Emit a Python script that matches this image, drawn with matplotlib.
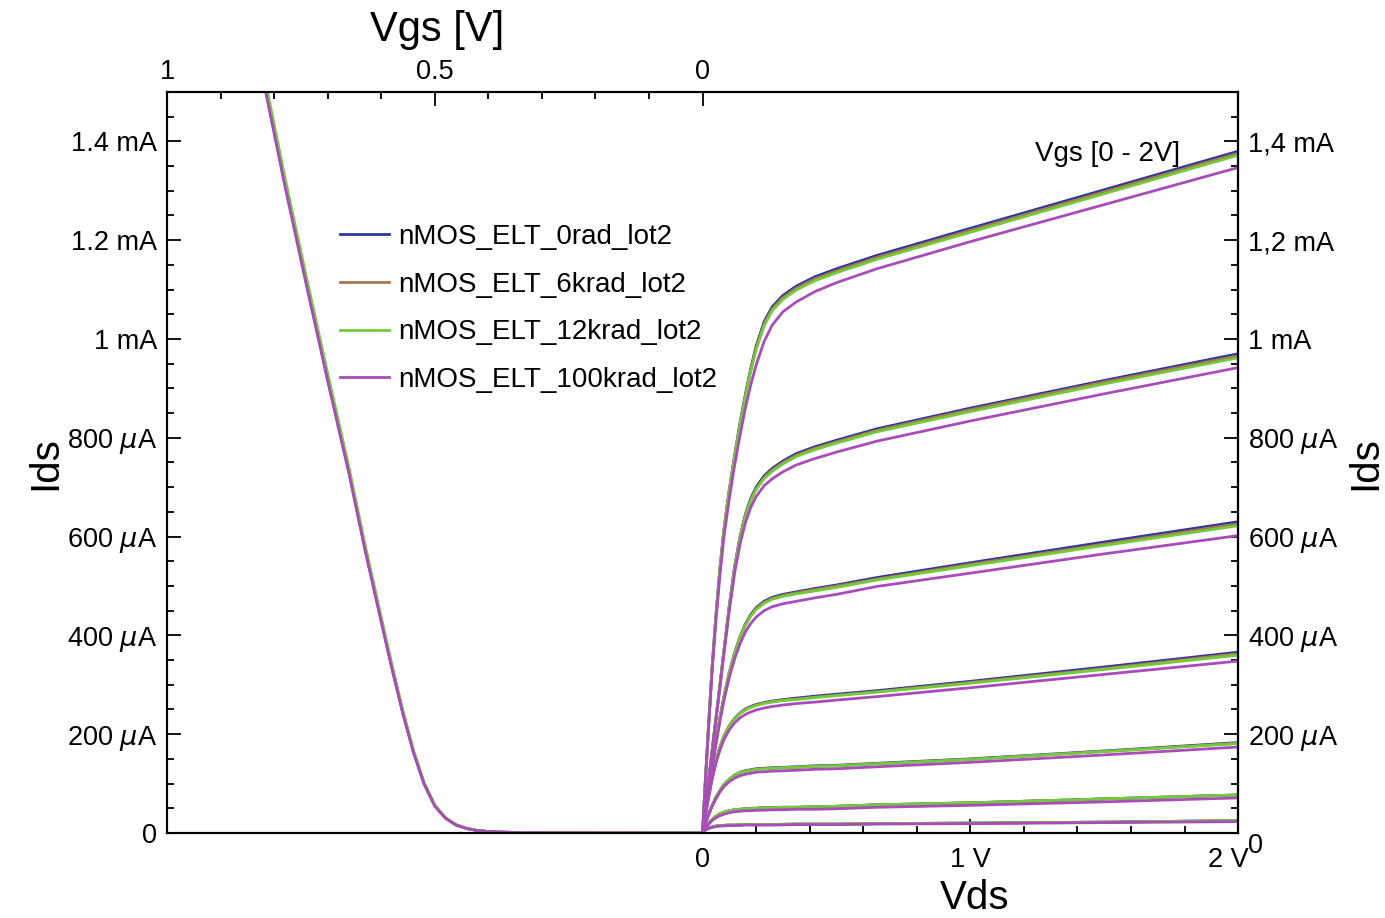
import numpy as np
import matplotlib
matplotlib.use('Agg')
import matplotlib.pyplot as plt
from matplotlib.transforms import ScaledTranslation

plt.rcParams['font.family'] = ['Liberation Sans', 'DejaVu Sans']
plt.rcParams['mathtext.fontset'] = 'dejavusans'

# series names and colours
series = ['nMOS_ELT_0rad_lot2', 'nMOS_ELT_6krad_lot2',
          'nMOS_ELT_12krad_lot2', 'nMOS_ELT_100krad_lot2']
colors = ['#2b35a0', '#a8784a', '#70cc3a', '#a94cba']

# transfer characteristic Ids(Vgs), mA
vgs_transfer = [0.0, 0.30, 0.35, 0.38, 0.40, 0.42, 0.44, 0.46, 0.48, 0.50, 0.52,
                0.54, 0.56, 0.58, 0.60, 0.63, 0.66, 0.70, 0.74, 0.78, 0.83]
ids_tr_0rad = [0, 0.0005, 0.001, 0.002, 0.003, 0.005, 0.009, 0.016, 0.030, 0.055, 0.100,
               0.165, 0.245, 0.335, 0.430, 0.575, 0.730, 0.920, 1.115, 1.315, 1.580]
ids_tr_6krad = [0, 0.0005, 0.001, 0.002, 0.003, 0.005, 0.009, 0.016, 0.030, 0.056, 0.101,
                0.166, 0.247, 0.337, 0.433, 0.578, 0.734, 0.925, 1.120, 1.320, 1.585]
ids_tr_12krad = [0, 0.0005, 0.001, 0.002, 0.003, 0.005, 0.009, 0.017, 0.031, 0.057, 0.102,
                 0.168, 0.249, 0.340, 0.436, 0.582, 0.738, 0.930, 1.126, 1.327, 1.595]
ids_tr_100krad = [0, 0.0005, 0.001, 0.002, 0.003, 0.005, 0.009, 0.016, 0.030, 0.054, 0.099,
                  0.163, 0.243, 0.332, 0.427, 0.571, 0.726, 0.915, 1.110, 1.310, 1.575]

# output characteristics Ids(Vds), one row per Vgs step, mA
vds = [0, 0.01, 0.02, 0.035, 0.05, 0.065, 0.08, 0.10, 0.12, 0.14, 0.16, 0.18,
       0.20, 0.23, 0.26, 0.30, 0.35, 0.42, 0.50, 0.65, 1.0, 1.5, 2.0]
ids_out_0rad = [
    [0, 0.100, 0.195, 0.330, 0.440, 0.535, 0.615, 0.695, 0.765, 0.830, 0.888, 0.940,
     0.985, 1.035, 1.065, 1.088, 1.107, 1.126, 1.142, 1.169, 1.224, 1.302, 1.380],
    [0, 0.047, 0.094, 0.163, 0.232, 0.300, 0.370, 0.460, 0.540, 0.600, 0.645, 0.677,
     0.700, 0.723, 0.738, 0.753, 0.768, 0.782, 0.795, 0.818, 0.860, 0.916, 0.970],
    [0, 0.038, 0.076, 0.131, 0.184, 0.233, 0.276, 0.325, 0.365, 0.397, 0.423, 0.442,
     0.456, 0.469, 0.477, 0.483, 0.488, 0.495, 0.502, 0.517, 0.547, 0.589, 0.630],
    [0, 0.034, 0.066, 0.110, 0.146, 0.174, 0.196, 0.217, 0.232, 0.243, 0.251, 0.256,
     0.260, 0.264, 0.267, 0.270, 0.273, 0.277, 0.281, 0.288, 0.307, 0.336, 0.366],
    [0, 0.018, 0.034, 0.055, 0.072, 0.086, 0.098, 0.109, 0.117, 0.123, 0.126, 0.128,
     0.130, 0.131, 0.132, 0.133, 0.134, 0.136, 0.137, 0.141, 0.150, 0.166, 0.183],
    [0, 0.009, 0.017, 0.027, 0.034, 0.039, 0.042, 0.045, 0.047, 0.048, 0.049, 0.050,
     0.050, 0.051, 0.051, 0.052, 0.052, 0.053, 0.054, 0.057, 0.061, 0.069, 0.077],
    [0, 0.006, 0.009, 0.012, 0.014, 0.015, 0.0155, 0.016, 0.016, 0.0165, 0.017, 0.017,
     0.017, 0.017, 0.017, 0.0175, 0.018, 0.018, 0.018, 0.019, 0.020, 0.022, 0.025],
]
ids_out_6krad = [
    [0, 0.100, 0.195, 0.330, 0.440, 0.535, 0.615, 0.694, 0.764, 0.828, 0.886, 0.937,
     0.982, 1.031, 1.061, 1.084, 1.103, 1.122, 1.138, 1.165, 1.220, 1.298, 1.376],
    [0, 0.047, 0.094, 0.163, 0.232, 0.300, 0.369, 0.459, 0.538, 0.598, 0.643, 0.674,
     0.697, 0.720, 0.735, 0.750, 0.765, 0.779, 0.792, 0.815, 0.857, 0.913, 0.966],
    [0, 0.038, 0.076, 0.131, 0.184, 0.233, 0.276, 0.325, 0.364, 0.396, 0.421, 0.440,
     0.454, 0.467, 0.475, 0.481, 0.486, 0.493, 0.500, 0.514, 0.544, 0.585, 0.626],
    [0, 0.034, 0.066, 0.110, 0.146, 0.174, 0.196, 0.217, 0.232, 0.242, 0.250, 0.255,
     0.259, 0.263, 0.266, 0.269, 0.271, 0.275, 0.279, 0.286, 0.305, 0.333, 0.363],
    [0, 0.018, 0.034, 0.055, 0.072, 0.086, 0.098, 0.109, 0.117, 0.122, 0.125, 0.127,
     0.129, 0.130, 0.131, 0.132, 0.133, 0.135, 0.136, 0.140, 0.149, 0.165, 0.182],
    [0, 0.009, 0.017, 0.027, 0.034, 0.039, 0.042, 0.045, 0.047, 0.048, 0.049, 0.050,
     0.050, 0.051, 0.051, 0.052, 0.052, 0.053, 0.054, 0.057, 0.061, 0.069, 0.077],
    [0, 0.006, 0.009, 0.012, 0.014, 0.015, 0.0155, 0.016, 0.016, 0.0165, 0.017, 0.017,
     0.017, 0.017, 0.017, 0.0175, 0.018, 0.018, 0.018, 0.019, 0.020, 0.022, 0.025],
]
ids_out_12krad = [
    [0, 0.100, 0.195, 0.330, 0.440, 0.535, 0.614, 0.693, 0.762, 0.826, 0.883, 0.934,
     0.978, 1.027, 1.057, 1.080, 1.099, 1.118, 1.134, 1.161, 1.216, 1.294, 1.372],
    [0, 0.047, 0.094, 0.163, 0.232, 0.300, 0.369, 0.458, 0.537, 0.596, 0.641, 0.672,
     0.695, 0.717, 0.732, 0.747, 0.762, 0.776, 0.789, 0.812, 0.853, 0.909, 0.962],
    [0, 0.038, 0.076, 0.131, 0.184, 0.233, 0.276, 0.324, 0.363, 0.395, 0.420, 0.439,
     0.452, 0.465, 0.473, 0.479, 0.484, 0.490, 0.497, 0.512, 0.541, 0.582, 0.622],
    [0, 0.034, 0.066, 0.110, 0.146, 0.174, 0.196, 0.216, 0.231, 0.242, 0.249, 0.254,
     0.258, 0.262, 0.265, 0.268, 0.270, 0.274, 0.278, 0.285, 0.303, 0.331, 0.360],
    [0, 0.018, 0.034, 0.055, 0.072, 0.086, 0.098, 0.109, 0.117, 0.122, 0.125, 0.127,
     0.129, 0.130, 0.131, 0.132, 0.133, 0.135, 0.136, 0.140, 0.149, 0.165, 0.181],
    [0, 0.009, 0.017, 0.027, 0.034, 0.039, 0.042, 0.045, 0.047, 0.048, 0.049, 0.050,
     0.050, 0.051, 0.051, 0.052, 0.052, 0.053, 0.054, 0.057, 0.061, 0.069, 0.077],
    [0, 0.006, 0.009, 0.012, 0.014, 0.015, 0.0155, 0.016, 0.016, 0.0165, 0.017, 0.017,
     0.017, 0.017, 0.017, 0.0175, 0.018, 0.018, 0.018, 0.019, 0.020, 0.022, 0.025],
]
ids_out_100krad = [
    [0, 0.098, 0.190, 0.322, 0.430, 0.522, 0.600, 0.677, 0.745, 0.805, 0.860, 0.907,
     0.947, 0.995, 1.028, 1.055, 1.075, 1.096, 1.114, 1.142, 1.197, 1.272, 1.347],
    [0, 0.046, 0.092, 0.160, 0.228, 0.295, 0.363, 0.450, 0.527, 0.585, 0.628, 0.659,
     0.681, 0.703, 0.717, 0.731, 0.745, 0.758, 0.771, 0.793, 0.834, 0.889, 0.942],
    [0, 0.037, 0.074, 0.128, 0.179, 0.226, 0.268, 0.315, 0.353, 0.383, 0.407, 0.424,
     0.437, 0.450, 0.458, 0.464, 0.469, 0.476, 0.483, 0.499, 0.526, 0.565, 0.602],
    [0, 0.033, 0.064, 0.107, 0.141, 0.168, 0.189, 0.209, 0.223, 0.233, 0.240, 0.245,
     0.249, 0.253, 0.256, 0.259, 0.262, 0.265, 0.269, 0.276, 0.294, 0.321, 0.348],
    [0, 0.017, 0.033, 0.053, 0.069, 0.083, 0.094, 0.104, 0.111, 0.116, 0.119, 0.121,
     0.123, 0.124, 0.125, 0.126, 0.127, 0.129, 0.130, 0.134, 0.143, 0.158, 0.174],
    [0, 0.008, 0.016, 0.025, 0.031, 0.035, 0.038, 0.041, 0.043, 0.044, 0.045, 0.045,
     0.046, 0.046, 0.047, 0.047, 0.048, 0.048, 0.049, 0.052, 0.056, 0.063, 0.071],
    [0, 0.006, 0.009, 0.011, 0.013, 0.014, 0.0145, 0.015, 0.015, 0.0155, 0.016, 0.016,
     0.016, 0.016, 0.016, 0.0165, 0.017, 0.017, 0.017, 0.018, 0.019, 0.021, 0.023],
]

transfer = [ids_tr_0rad, ids_tr_6krad, ids_tr_12krad, ids_tr_100krad]
output = [ids_out_0rad, ids_out_6krad, ids_out_12krad, ids_out_100krad]

# tick labels
y_ticks = [0, 0.2, 0.4, 0.6, 0.8, 1.0, 1.2, 1.4]
y_labels_left = ['0', r'200 $\mu$A', r'400 $\mu$A', r'600 $\mu$A', r'800 $\mu$A',
                 '1 mA', '1.2 mA', '1.4 mA']
y_labels_right = ['0', r'200 $\mu$A', r'400 $\mu$A', r'600 $\mu$A', r'800 $\mu$A',
                  '1 mA', '1,2 mA', '1,4 mA']
vds_ticks = [0, 1, 2]
vds_labels = ['0', '1 V', '2 V']
vgs_ticks = [1, 0.5, 0]
vgs_labels = ['1', '0.5', '0']

fs = 19.5
lw = 2.0

fig = plt.figure(figsize=(13.85, 9.18), dpi=100)
ax = fig.add_axes([0.1206, 0.0926, 0.7733, 0.8072])
ax.set_xlim(-2, 2)
ax.set_ylim(0, 1.5)

handles = []
for name, col, curves in zip(series, colors, output):
    for k, ids in enumerate(curves):
        ln, = ax.plot(vds, ids, color=col, lw=lw, solid_joinstyle='round')
        if k == 0:
            ln.set_label(name)
            handles.append(ln)

# top axis in Vgs, used for the transfer curves
ax_top = ax.twiny()
ax_top.set_xlim(1, -1)
for col, ids in zip(colors, transfer):
    ax_top.plot(vgs_transfer, ids, color=col, lw=lw, solid_joinstyle='round')

# ticks
ax.set_xticks(vds_ticks, vds_labels)
ax.set_xticks(np.arange(0.2, 2.0, 0.2), minor=True)
ax.set_yticks(y_ticks, y_labels_left)
ax.set_yticks(np.arange(0.05, 1.5, 0.05), minor=True)
ax.tick_params(which='both', direction='in', labelsize=fs, width=1.3)
ax.tick_params(which='major', length=10)
ax.tick_params(which='minor', length=5)
ax.tick_params(axis='x', pad=10)
ax.tick_params(axis='y', pad=7)

# nudge the "2 V" label a little to the left, as in the original
lbl_2v = ax.get_xticklabels()[-1]
lbl_2v.set_transform(lbl_2v.get_transform()
                     + ScaledTranslation(-7 / 72, 0, fig.dpi_scale_trans))

ax_top.set_xticks(vgs_ticks, vgs_labels)
ax_top.set_xticks([0.9, 0.8, 0.7, 0.6, 0.4, 0.3, 0.2, 0.1], minor=True)
ax_top.tick_params(which='both', direction='in', labelsize=fs, width=1.3, pad=5)
ax_top.tick_params(which='major', length=10)
ax_top.tick_params(which='minor', length=5)

sec = ax.secondary_yaxis('right')
sec.set_yticks(y_ticks, y_labels_right)
sec.set_yticks(np.arange(0.05, 1.5, 0.05), minor=True)
sec.tick_params(which='both', direction='in', labelsize=fs, width=1.3, pad=7)
sec.tick_params(which='major', length=10)
sec.tick_params(which='minor', length=5)
sec.get_yticklabels()[0].set_va('top')

for a in (ax, ax_top):
    for s in a.spines.values():
        s.set_linewidth(1.5)
for s in sec.spines.values():
    s.set_linewidth(1.5)

# axis labels
fig.text(0.0325, 0.496, 'Ids', rotation=90, fontsize=29, ha='center', va='center')
fig.text(0.9855, 0.496, 'Ids', rotation=90, fontsize=29, ha='center', va='center')
fig.text(0.704, 0.022, 'Vds', fontsize=29, ha='center', va='center')
fig.text(0.3155, 0.967, 'Vgs [V]', fontsize=30, ha='center', va='center')

ax.text(1.24, 1.375, 'Vgs [0 - 2V]', fontsize=20, ha='left', va='center')

ax.legend(handles=handles, loc='upper left', bbox_to_anchor=(0.2455, 0.756),
          bbox_transform=fig.transFigure, frameon=False, fontsize=20,
          handlelength=1.75, handletextpad=0.33, labelspacing=0.78,
          borderpad=0, borderaxespad=0)

fig.savefig('out.png', dpi=100)
